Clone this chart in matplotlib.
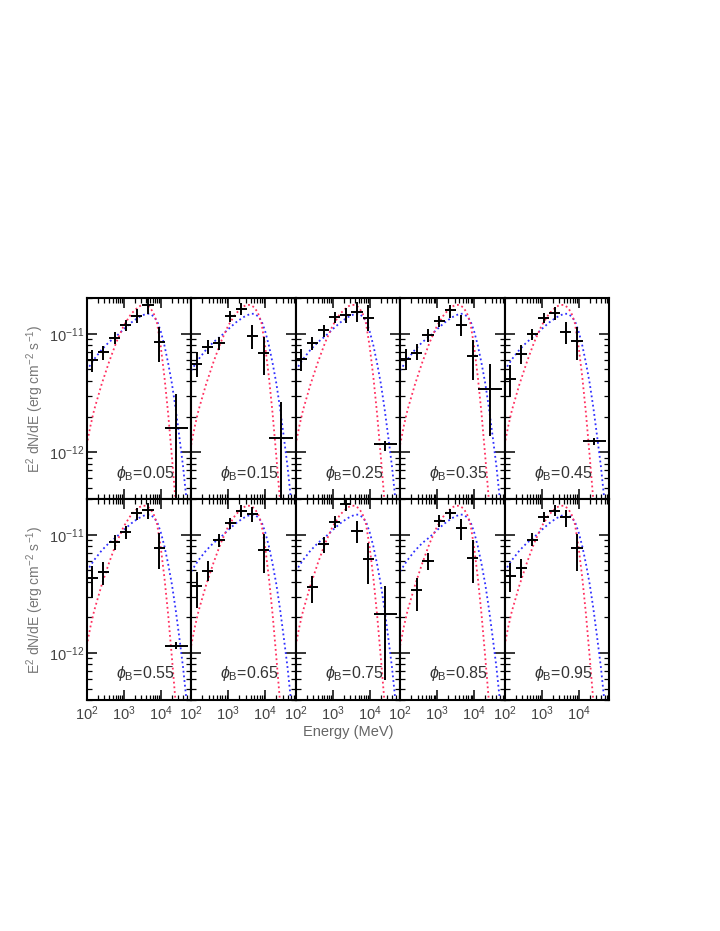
import numpy as np
import matplotlib
matplotlib.use("Agg")
import matplotlib.pyplot as plt
from matplotlib.ticker import LogLocator, FixedLocator, NullFormatter, FixedFormatter

plt.rcParams['font.family'] = ['Liberation Sans', 'DejaVu Sans']
plt.rcParams['mathtext.fontset'] = 'custom'
plt.rcParams['mathtext.rm'] = 'Liberation Sans'
plt.rcParams['mathtext.it'] = 'Liberation Sans:italic'
plt.rcParams['mathtext.fallback'] = 'cm'

# ---------------- data ----------------
phases = [0.05, 0.15, 0.25, 0.35, 0.45, 0.55, 0.65, 0.75, 0.85, 0.95]

# energy bin edges (MeV)
bin_edges = [100, 200, 400, 800, 1600, 3200, 6400, 12800, 55000]

nan = np.nan
# flux values in units of 1e-12 erg cm^-2 s^-1 (nan = no point in that bin)
flux = [
    [5.97, 7.03, 9.25, 11.8, 14.1, 17.5, 8.55, 1.61],
    [5.52, 7.76, 8.39, 14.1, 16.1, 9.55, 6.9, 1.32],
    [6.1, 8.39, 10.7, 13.9, 14.4, 15.3, 13.7, 1.16],
    [6.18, 6.9, 9.73, 12.9, 15.9, 12.0, 6.46, 3.4],
    [4.18, 6.72, 9.92, 13.7, 14.9, 10.4, 8.73, 1.24],
    [4.3, 4.82, 8.65, 10.5, 15.2, 16.3, 7.76, 1.15],
    [3.65, 4.92, 8.95, 12.5, 15.9, 15.1, 7.36, nan],
    [nan, 3.6, 8.28, 12.8, 18.1, 10.7, 6.26, 2.14],
    [nan, 3.42, 6.05, 13.0, 15.2, 11.5, 6.38, nan],
    [4.52, 5.25, 9.07, 14.1, 15.9, 14.1, 7.76, nan],
]
flux_lo = [
    [4.76, 6.05, 8.16, 10.6, 12.4, 14.7, 5.79, 0.01],
    [4.3, 6.72, 7.36, 12.6, 14.4, 7.5, 4.46, 0.01],
    [4.9, 7.26, 9.43, 12.4, 12.4, 12.6, 10.6, 1.03],
    [4.97, 5.97, 8.55, 11.5, 13.7, 9.55, 4.1, 1.36],
    [2.92, 5.6, 8.83, 12.4, 13.0, 8.28, 5.97, 1.14],
    [2.92, 3.79, 7.36, 9.25, 13.4, 13.7, 5.15, 1.08],
    [2.4, 4.05, 7.85, 11.2, 14.1, 12.8, 4.73, nan],
    [nan, 2.63, 6.98, 11.5, 15.9, 8.49, 3.85, 0.59],
    [nan, 2.28, 5.05, 11.7, 13.7, 9.07, 3.89, nan],
    [3.27, 4.32, 7.96, 12.8, 14.3, 11.7, 4.97, nan],
]
flux_hi = [
    [7.26, 7.85, 10.4, 13.0, 16.1, 19.9, 11.5, 3.12],
    [7.0, 8.83, 9.43, 15.7, 18.1, 11.8, 9.43, 2.65],
    [7.5, 9.43, 11.8, 15.3, 16.4, 18.7, 17.5, 1.25],
    [7.5, 8.28, 11.1, 14.1, 17.5, 14.4, 8.83, 5.52],
    [5.42, 8.0, 11.1, 15.1, 16.9, 12.6, 11.5, 1.32],
    [5.4, 5.86, 9.87, 11.8, 16.9, 18.5, 10.3, 1.23],
    [4.82, 5.97, 10.2, 13.9, 17.7, 17.1, 10.1, nan],
    [nan, 4.52, 9.55, 14.3, 20.5, 13.0, 8.49, 3.72],
    [nan, 4.32, 6.98, 14.6, 16.6, 13.7, 8.95, nan],
    [5.74, 6.27, 10.3, 15.6, 17.7, 16.3, 10.2, nan],
]

# model curves (same in every panel), flux in units of 1e-12
blue_E = [100, 158, 251, 398, 631, 1000, 1585, 2512, 3981, 5012, 6310, 7943,
          10000, 12589, 15849, 19953, 25119, 31623, 39811, 50119]
blue_F = [4.90, 6.10, 7.33, 8.51, 9.55, 10.96, 12.45, 13.80, 14.79, 14.79, 14.13, 12.88,
          10.47, 7.94, 5.62, 3.80, 2.34, 1.35, 0.76, 0.38]
red_E = [100, 126, 158, 251, 398, 631, 1000, 1585, 2512, 3162, 3981, 5012,
         6310, 7943, 10000, 12589, 15849, 19953, 25119]
red_F = [1.15, 1.66, 2.26, 3.72, 5.75, 8.51, 11.75, 14.79, 16.98, 17.58, 17.58, 16.79,
         15.14, 12.30, 7.76, 4.27, 2.09, 0.91, 0.38]

# ---------------- plot ----------------
fig = plt.figure(figsize=(7.2, 9.31), dpi=100)
left, right = 86.7 / 720, 609.0 / 720
top, bottom = 1 - 298.3 / 931, 1 - 700.0 / 931
pw = (right - left) / 5
ph = (top - bottom) / 2

edges = np.array(bin_edges, dtype=float)
Ec = np.sqrt(edges[:-1] * edges[1:])
xerr = [Ec - edges[:-1], edges[1:] - Ec]
scale = 1e-12

text_col = '#444444'
for i, ph_val in enumerate(phases):
    r, c = divmod(i, 5)
    ax = fig.add_axes([left + c * pw, top - (r + 1) * ph, pw, ph])
    ax.set_xscale('log')
    ax.set_yscale('log')
    ax.set_xlim(100, 6.6e4)
    ax.set_ylim(4e-13, 2e-11)

    ax.plot(np.array(blue_E), np.array(blue_F) * scale, color='#2f2fff',
            linestyle=(0, (1, 1.6)), lw=1.3, zorder=2)
    ax.plot(np.array(red_E), np.array(red_F) * scale, color='#ff2f5f',
            linestyle=(0, (1, 1.6)), lw=1.3, zorder=2)

    F = np.array(flux[i]) * scale
    lo = np.array(flux_lo[i]) * scale
    hi = np.array(flux_hi[i]) * scale
    ax.errorbar(Ec, F, xerr=xerr, yerr=[F - lo, hi - F], fmt='none',
                ecolor='black', elinewidth=1.4, capsize=0, zorder=3)

    ax.text(0.56, 0.13, r'$\phi_{\mathrm{B}}$=%.2f' % ph_val, transform=ax.transAxes,
            ha='center', va='center', fontsize=11.5, color='#333333')

    for s in ax.spines.values():
        s.set_linewidth(1.5)
    ax.xaxis.set_major_locator(FixedLocator([1e2, 1e3, 1e4]))
    ax.xaxis.set_minor_locator(LogLocator(base=10, subs=np.arange(2, 10), numticks=20))
    ax.yaxis.set_major_locator(FixedLocator([1e-12, 1e-11]))
    ax.yaxis.set_minor_locator(LogLocator(base=10, subs=np.arange(2, 10), numticks=20))
    ax.tick_params(which='both', direction='in', top=True, right=True, colors='black',
                   labelcolor=text_col, labelsize=10.5)
    ax.tick_params(which='major', length=7, width=1.1)
    ax.tick_params(which='minor', length=3.5, width=0.9)
    ax.xaxis.set_minor_formatter(NullFormatter())
    ax.yaxis.set_minor_formatter(NullFormatter())
    if r == 1:
        ax.xaxis.set_major_formatter(FixedFormatter([r'$10^2$', r'$10^3$', r'$10^4$']))
    else:
        ax.xaxis.set_major_formatter(NullFormatter())
    if c == 0:
        ax.yaxis.set_major_formatter(FixedFormatter([r'$10^{-12}$', r'$10^{-11}$']))
        ax.tick_params(axis='y', which='major', pad=2)
    else:
        ax.yaxis.set_major_formatter(NullFormatter())

ylab = r'E$^2$ dN/dE (erg cm$^{-2}$ s$^{-1}$)'
for rc in (0, 1):
    yc = top - (rc + 0.5) * ph
    fig.text(35 / 720, yc, ylab, rotation=90, ha='center', va='center',
             fontsize=10, color='#777777')
fig.text((left + right) / 2, 1 - 732 / 931, 'Energy (MeV)', ha='center', va='center',
         fontsize=10.5, color='#666666')

fig.savefig('out.png', dpi=100)
